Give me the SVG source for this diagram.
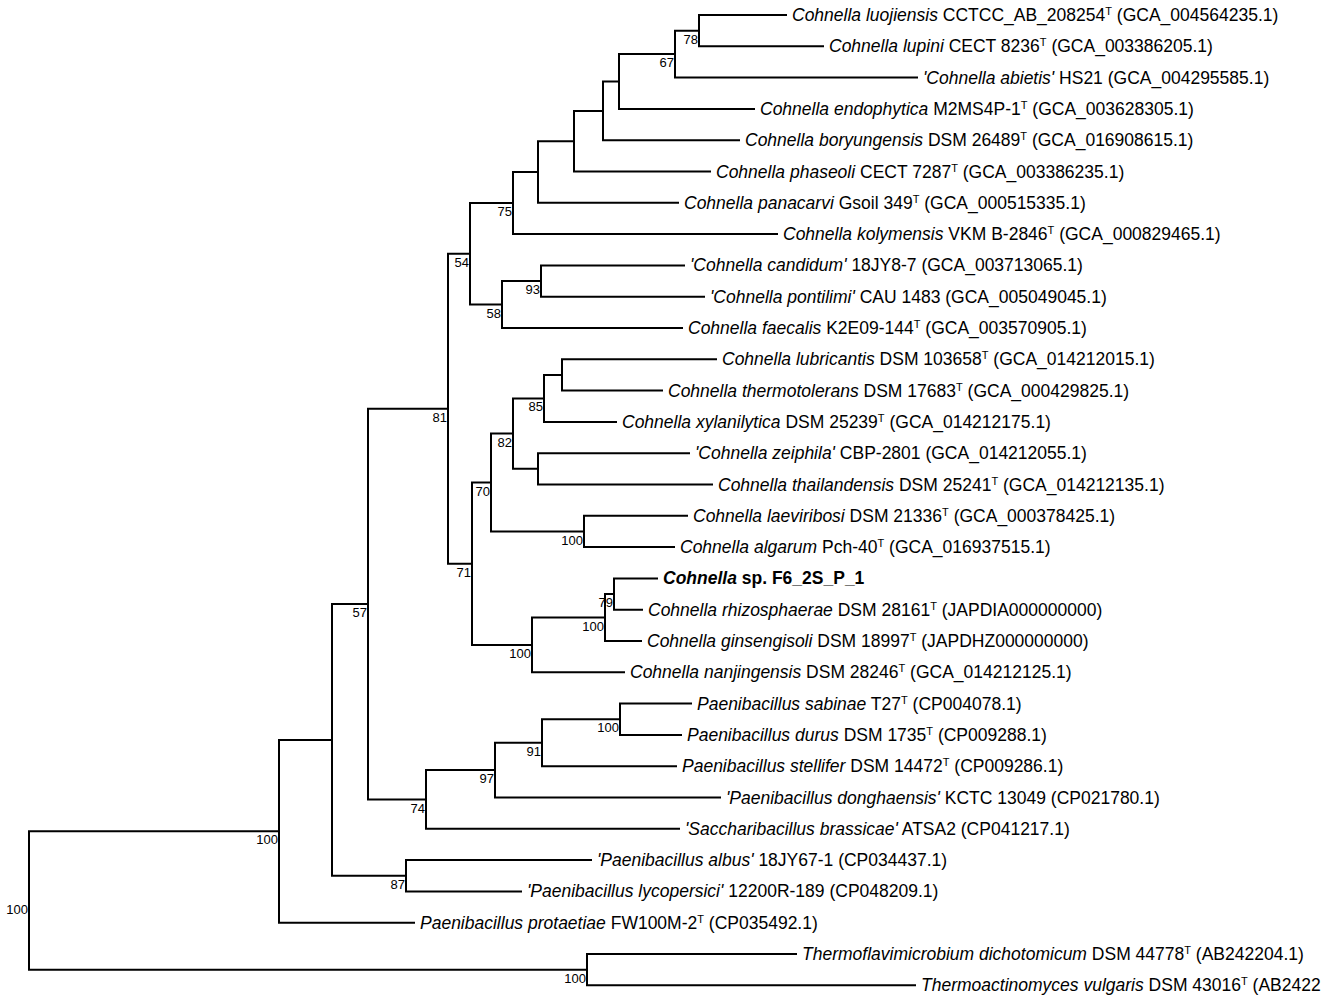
<svg xmlns="http://www.w3.org/2000/svg" width="1325" height="1002" viewBox="0 0 1325 1002">
<style>
.br{stroke:#000;stroke-width:2;fill:none;stroke-linejoin:miter}
text{font-family:"Liberation Sans",Arial,sans-serif;fill:#000}
.lf{font-size:17.5px}
.bs{font-size:13px;text-anchor:end}
.i{font-style:italic}
.b{font-weight:bold}
.sup{font-size:11px}
</style>
<rect width="1325" height="1002" fill="#fff"/>
<g id="connectors">
<path class="br" d="M787,15 H699 V46.3 H824"/>
<path class="br" d="M699,30.65 H675 V77.6 H918"/>
<path class="br" d="M675,54.1 H619 V108.9 H755"/>
<path class="br" d="M619,81.5 H603 V140.2 H740"/>
<path class="br" d="M603,110.9 H574 V171.5 H711"/>
<path class="br" d="M574,141.2 H538 V202.8 H679"/>
<path class="br" d="M538,172 H513 V234.1 H778"/>
<path class="br" d="M685,265.4 H541 V296.7 H705"/>
<path class="br" d="M541,281.05 H502 V328 H683"/>
<path class="br" d="M513,203.05 H470 V304.5 H502"/>
<path class="br" d="M717,359.3 H562 V390.6 H663"/>
<path class="br" d="M562,374.95 H544 V421.9 H617"/>
<path class="br" d="M690,453.2 H538 V484.5 H713"/>
<path class="br" d="M544,398.4 H513 V468.85 H538"/>
<path class="br" d="M688,515.8 H584 V547.1 H675"/>
<path class="br" d="M513,433.6 H491 V531.45 H584"/>
<path class="br" d="M658,578.4 H614 V609.7 H643"/>
<path class="br" d="M614,594.05 H605 V641 H642"/>
<path class="br" d="M605,617.5 H532 V672.3 H625"/>
<path class="br" d="M491,482.5 H472 V644.9 H532"/>
<path class="br" d="M470,253.8 H448 V563.7 H472"/>
<path class="br" d="M692,703.6 H620 V734.9 H682"/>
<path class="br" d="M620,719.25 H542 V766.2 H677"/>
<path class="br" d="M542,742.7 H495 V797.5 H721"/>
<path class="br" d="M495,770.1 H426 V828.8 H680"/>
<path class="br" d="M448,408.75 H368 V799.45 H426"/>
<path class="br" d="M592,860.1 H406 V891.4 H522"/>
<path class="br" d="M368,604.1 H332 V875.75 H406"/>
<path class="br" d="M332,739.9 H279 V922.7 H415"/>
<path class="br" d="M797,954 H587 V985.3 H916"/>
<path class="br" d="M279,831.3 H29 V969.65 H587"/>
</g>
<g id="bootstrap">
<g id="n78"><text class="bs" x="698" y="43.6">78</text></g>
<g id="n67"><text class="bs" x="674" y="67.1">67</text></g>
<g id="n75"><text class="bs" x="512" y="216">75</text></g>
<g id="n93"><text class="bs" x="540" y="294">93</text></g>
<g id="n58"><text class="bs" x="501" y="317.5">58</text></g>
<g id="n54"><text class="bs" x="469" y="266.8">54</text></g>
<g id="n85"><text class="bs" x="543" y="411.4">85</text></g>
<g id="n82"><text class="bs" x="512" y="446.6">82</text></g>
<g id="n100a"><text class="bs" x="583" y="544.5">100</text></g>
<g id="n70"><text class="bs" x="490" y="495.5">70</text></g>
<g id="n79"><text class="bs" x="613" y="607">79</text></g>
<g id="n100b"><text class="bs" x="604" y="630.5">100</text></g>
<g id="n100c"><text class="bs" x="531" y="657.9">100</text></g>
<g id="n71"><text class="bs" x="471" y="576.7">71</text></g>
<g id="n81"><text class="bs" x="447" y="421.7">81</text></g>
<g id="n100d"><text class="bs" x="619" y="732.3">100</text></g>
<g id="n91"><text class="bs" x="541" y="755.7">91</text></g>
<g id="n97"><text class="bs" x="494" y="783.1">97</text></g>
<g id="n74"><text class="bs" x="425" y="812.5">74</text></g>
<g id="n57"><text class="bs" x="367" y="617.1">57</text></g>
<g id="n87"><text class="bs" x="405" y="888.8">87</text></g>
<g id="n100e"><text class="bs" x="278" y="844.3">100</text></g>
<g id="n100f"><text class="bs" x="586" y="982.7">100</text></g>
<g id="root"><text class="bs" x="28" y="913.5">100</text></g>
</g>
<g id="leaves">
<g id="t01"><text class="lf" x="792" y="21"><tspan class="i">Cohnella luojiensis</tspan> CCTCC_AB_208254<tspan class="sup" dy="-6">T</tspan><tspan dy="6"> (GCA_004564235.1)</tspan></text></g>
<g id="t02"><text class="lf" x="829" y="52.3"><tspan class="i">Cohnella lupini</tspan> CECT 8236<tspan class="sup" dy="-6">T</tspan><tspan dy="6"> (GCA_003386205.1)</tspan></text></g>
<g id="t03"><text class="lf" x="923" y="83.6"><tspan class="i">'Cohnella abietis'</tspan> HS21 (GCA_004295585.1)</text></g>
<g id="t04"><text class="lf" x="760" y="114.9"><tspan class="i">Cohnella endophytica</tspan> M2MS4P-1<tspan class="sup" dy="-6">T</tspan><tspan dy="6"> (GCA_003628305.1)</tspan></text></g>
<g id="t05"><text class="lf" x="745" y="146.2"><tspan class="i">Cohnella boryungensis</tspan> DSM 26489<tspan class="sup" dy="-6">T</tspan><tspan dy="6"> (GCA_016908615.1)</tspan></text></g>
<g id="t06"><text class="lf" x="716" y="177.5"><tspan class="i">Cohnella phaseoli</tspan> CECT 7287<tspan class="sup" dy="-6">T</tspan><tspan dy="6"> (GCA_003386235.1)</tspan></text></g>
<g id="t07"><text class="lf" x="684" y="208.8"><tspan class="i">Cohnella panacarvi</tspan> Gsoil 349<tspan class="sup" dy="-6">T</tspan><tspan dy="6"> (GCA_000515335.1)</tspan></text></g>
<g id="t08"><text class="lf" x="783" y="240.1"><tspan class="i">Cohnella kolymensis</tspan> VKM B-2846<tspan class="sup" dy="-6">T</tspan><tspan dy="6"> (GCA_000829465.1)</tspan></text></g>
<g id="t09"><text class="lf" x="690" y="271.4"><tspan class="i">'Cohnella candidum'</tspan> 18JY8-7 (GCA_003713065.1)</text></g>
<g id="t10"><text class="lf" x="710" y="302.7"><tspan class="i">'Cohnella pontilimi'</tspan> CAU 1483 (GCA_005049045.1)</text></g>
<g id="t11"><text class="lf" x="688" y="334"><tspan class="i">Cohnella faecalis</tspan> K2E09-144<tspan class="sup" dy="-6">T</tspan><tspan dy="6"> (GCA_003570905.1)</tspan></text></g>
<g id="t12"><text class="lf" x="722" y="365.3"><tspan class="i">Cohnella lubricantis</tspan> DSM 103658<tspan class="sup" dy="-6">T</tspan><tspan dy="6"> (GCA_014212015.1)</tspan></text></g>
<g id="t13"><text class="lf" x="668" y="396.6"><tspan class="i">Cohnella thermotolerans</tspan> DSM 17683<tspan class="sup" dy="-6">T</tspan><tspan dy="6"> (GCA_000429825.1)</tspan></text></g>
<g id="t14"><text class="lf" x="622" y="427.9"><tspan class="i">Cohnella xylanilytica</tspan> DSM 25239<tspan class="sup" dy="-6">T</tspan><tspan dy="6"> (GCA_014212175.1)</tspan></text></g>
<g id="t15"><text class="lf" x="695" y="459.2"><tspan class="i">'Cohnella zeiphila'</tspan> CBP-2801 (GCA_014212055.1)</text></g>
<g id="t16"><text class="lf" x="718" y="490.5"><tspan class="i">Cohnella thailandensis</tspan> DSM 25241<tspan class="sup" dy="-6">T</tspan><tspan dy="6"> (GCA_014212135.1)</tspan></text></g>
<g id="t17"><text class="lf" x="693" y="521.8"><tspan class="i">Cohnella laeviribosi</tspan> DSM 21336<tspan class="sup" dy="-6">T</tspan><tspan dy="6"> (GCA_000378425.1)</tspan></text></g>
<g id="t18"><text class="lf" x="680" y="553.1"><tspan class="i">Cohnella algarum</tspan> Pch-40<tspan class="sup" dy="-6">T</tspan><tspan dy="6"> (GCA_016937515.1)</tspan></text></g>
<g id="t19"><text class="lf b" x="663" y="584.4"><tspan class="i">Cohnella</tspan> sp. F6_2S_P_1</text></g>
<g id="t20"><text class="lf" x="648" y="615.7"><tspan class="i">Cohnella rhizosphaerae</tspan> DSM 28161<tspan class="sup" dy="-6">T</tspan><tspan dy="6"> (JAPDIA000000000)</tspan></text></g>
<g id="t21"><text class="lf" x="647" y="647"><tspan class="i">Cohnella ginsengisoli</tspan> DSM 18997<tspan class="sup" dy="-6">T</tspan><tspan dy="6"> (JAPDHZ000000000)</tspan></text></g>
<g id="t22"><text class="lf" x="630" y="678.3"><tspan class="i">Cohnella nanjingensis</tspan> DSM 28246<tspan class="sup" dy="-6">T</tspan><tspan dy="6"> (GCA_014212125.1)</tspan></text></g>
<g id="t23"><text class="lf" x="697" y="709.6"><tspan class="i">Paenibacillus sabinae</tspan> T27<tspan class="sup" dy="-6">T</tspan><tspan dy="6"> (CP004078.1)</tspan></text></g>
<g id="t24"><text class="lf" x="687" y="740.9"><tspan class="i">Paenibacillus durus</tspan> DSM 1735<tspan class="sup" dy="-6">T</tspan><tspan dy="6"> (CP009288.1)</tspan></text></g>
<g id="t25"><text class="lf" x="682" y="772.2"><tspan class="i">Paenibacillus stellifer</tspan> DSM 14472<tspan class="sup" dy="-6">T</tspan><tspan dy="6"> (CP009286.1)</tspan></text></g>
<g id="t26"><text class="lf" x="726" y="803.5"><tspan class="i">'Paenibacillus donghaensis'</tspan> KCTC 13049 (CP021780.1)</text></g>
<g id="t27"><text class="lf" x="685" y="834.8"><tspan class="i">'Saccharibacillus brassicae'</tspan> ATSA2 (CP041217.1)</text></g>
<g id="t28"><text class="lf" x="597" y="866.1"><tspan class="i">'Paenibacillus albus'</tspan> 18JY67-1 (CP034437.1)</text></g>
<g id="t29"><text class="lf" x="527" y="897.4"><tspan class="i">'Paenibacillus lycopersici'</tspan> 12200R-189 (CP048209.1)</text></g>
<g id="t30"><text class="lf" x="420" y="928.7"><tspan class="i">Paenibacillus protaetiae</tspan> FW100M-2<tspan class="sup" dy="-6">T</tspan><tspan dy="6"> (CP035492.1)</tspan></text></g>
<g id="t31"><text class="lf" x="802" y="960"><tspan class="i">Thermoflavimicrobium dichotomicum</tspan> DSM 44778<tspan class="sup" dy="-6">T</tspan><tspan dy="6"> (AB242204.1)</tspan></text></g>
<g id="t32"><text class="lf" x="921" y="991.3"><tspan class="i">Thermoactinomyces vulgaris</tspan> DSM 43016<tspan class="sup" dy="-6">T</tspan><tspan dy="6"> (AB2422</tspan></text></g>
</g>
</svg>
